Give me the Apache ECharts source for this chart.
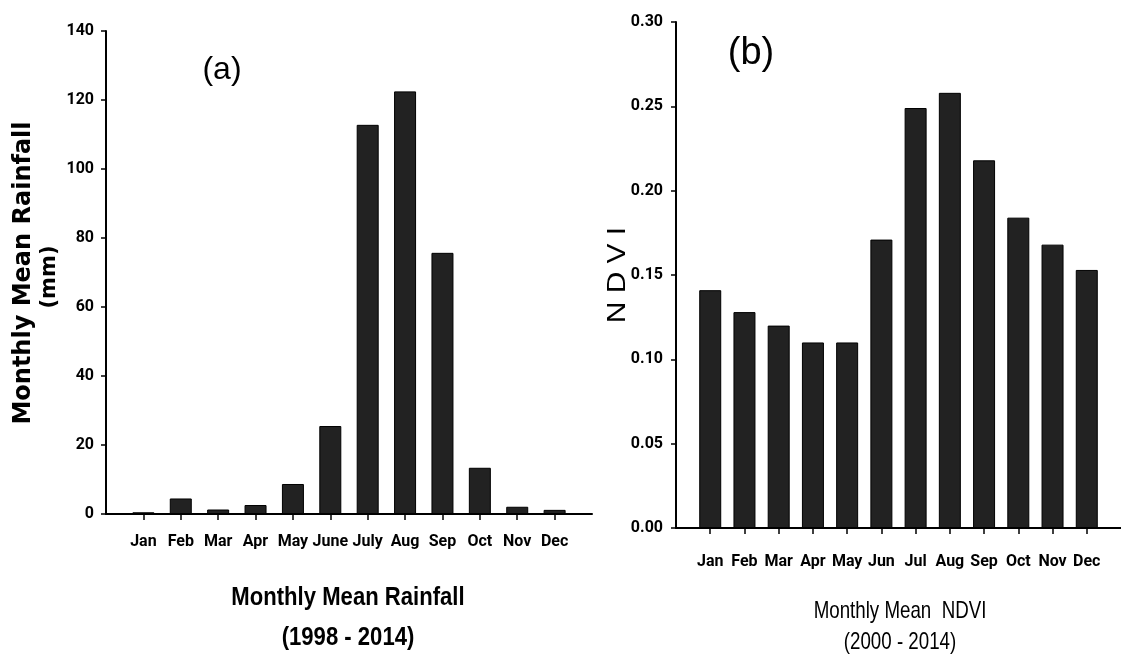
<!DOCTYPE html>
<html>
<head>
<meta charset="utf-8">
<script src="https://cdn.jsdelivr.net/npm/echarts@6/dist/echarts.min.js"></script>
<style>
html,body{margin:0;padding:0;background:#fff;}
#main{width:1121px;height:658px;}
</style>
</head>
<body>
<div id="main"></div>
<script>
// ---- data ----
const rainfallMonths = ['Jan','Feb','Mar','Apr','May','June','July','Aug','Sep','Oct','Nov','Dec'];
const rainfall = [0.5, 4.5, 1.3, 2.6, 8.7, 25.5, 112.8, 122.5, 75.7, 13.4, 2.1, 1.2];
const rainfallTicks = [0, 20, 40, 60, 80, 100, 120, 140];

const ndviMonths = ['Jan','Feb','Mar','Apr','May','Jun','Jul','Aug','Sep','Oct','Nov','Dec'];
const ndvi = [0.141, 0.128, 0.120, 0.110, 0.110, 0.171, 0.249, 0.258, 0.218, 0.184, 0.168, 0.153];
const ndviTicks = [0, 0.05, 0.10, 0.15, 0.20, 0.25, 0.30];

const positions = rainfallMonths.map((m, i) => i + 1);

const tickFont = "Roboto, 'Liberation Sans', sans-serif";

function xAxisCfg(gridIndex, labels, margin) {
  return {
    type: 'value', gridIndex: gridIndex, min: 0, max: labels.length + 1,
    splitLine: {show: false},
    axisLine: {show: true, onZero: false, lineStyle: {color: '#000', width: 2}},
    axisTick: {show: true, customValues: positions, length: 6, lineStyle: {color: '#000', width: 1.5}},
    axisLabel: {
      customValues: positions, margin: margin,
      formatter: v => labels[Math.round(v) - 1] || '',
      color: '#000', fontFamily: tickFont, fontWeight: 'bold', fontSize: 16
    }
  };
}
function yAxisCfg(gridIndex, ticks, decimals, margin) {
  return {
    type: 'value', gridIndex: gridIndex, min: ticks[0], max: ticks[ticks.length - 1],
    splitLine: {show: false},
    axisLine: {show: true, lineStyle: {color: '#000', width: 2}},
    axisTick: {show: true, customValues: ticks, length: 5, lineStyle: {color: '#000', width: 1.5}},
    axisLabel: {
      customValues: ticks, margin: margin,
      formatter: v => decimals ? v.toFixed(decimals) : String(v),
      color: '#000', fontFamily: tickFont, fontWeight: 'bold', fontSize: 16
    }
  };
}

const chart = echarts.init(document.getElementById('main'), null, {renderer: 'canvas'});
chart.setOption({
  backgroundColor: '#fff',
  animation: false,
  grid: [
    {left: 106, top: 31, width: 486, height: 483},
    {left: 676, top: 22, width: 446, height: 506}
  ],
  xAxis: [
    xAxisCfg(0, rainfallMonths, 20),
    xAxisCfg(1, ndviMonths, 26)
  ],
  yAxis: [
    yAxisCfg(0, rainfallTicks, 0, 12),
    yAxisCfg(1, ndviTicks, 2, 13)
  ],
  series: [
    {
      type: 'bar', xAxisIndex: 0, yAxisIndex: 0, barWidth: 22,
      data: rainfall.map((v, i) => [positions[i], v]),
      itemStyle: {color: '#222222', borderColor: '#000', borderWidth: 1}
    },
    {
      type: 'bar', xAxisIndex: 1, yAxisIndex: 1, barWidth: 22,
      data: ndvi.map((v, i) => [positions[i], v]),
      itemStyle: {color: '#222222', borderColor: '#000', borderWidth: 1}
    }
  ],
  graphic: [
    {type: 'text', x: 222, y: 70, style: {text: '(a)', fontFamily: "'Liberation Sans',sans-serif", fontSize: 32, fill: '#000', align: 'center', verticalAlign: 'middle'}},
    {type: 'text', x: 751, y: 54, style: {text: '(b)', fontFamily: "'Liberation Sans',sans-serif", fontSize: 38, fill: '#000', align: 'center', verticalAlign: 'middle'}},
    {type: 'text', x: 24, y: 273, rotation: Math.PI / 2, style: {text: 'Monthly Mean Rainfall', fontFamily: "'DejaVu Sans',sans-serif", fontWeight: 'bold', fontSize: 24, fill: '#000', align: 'center', verticalAlign: 'middle'}},
    {type: 'text', x: 50, y: 277, rotation: Math.PI / 2, style: {text: '(mm)', fontFamily: "'DejaVu Sans',sans-serif", fontWeight: 'bold', fontSize: 21, fill: '#000', align: 'center', verticalAlign: 'middle'}},
    {type: 'text', x: 618, y: 275, rotation: Math.PI / 2, scaleX: 1.15, style: {text: 'N D V I', fontFamily: "'Liberation Sans',sans-serif", fontSize: 26, fill: '#000', align: 'center', verticalAlign: 'middle'}},
    {type: 'text', x: 348, y: 598, scaleX: 0.85, style: {text: 'Monthly Mean Rainfall', fontFamily: "'Liberation Sans',sans-serif", fontWeight: 'bold', fontSize: 26, fill: '#000', align: 'center', verticalAlign: 'middle'}},
    {type: 'text', x: 348, y: 638, scaleX: 0.85, style: {text: '(1998 - 2014)', fontFamily: "'Liberation Sans',sans-serif", fontWeight: 'bold', fontSize: 26, fill: '#000', align: 'center', verticalAlign: 'middle'}},
    {type: 'text', x: 900, y: 611, scaleX: 0.78, style: {text: 'Monthly Mean  NDVI', fontFamily: "'Liberation Sans',sans-serif", fontSize: 24, fill: '#000', align: 'center', verticalAlign: 'middle'}},
    {type: 'text', x: 900, y: 642, scaleX: 0.78, style: {text: '(2000 - 2014)', fontFamily: "'Liberation Sans',sans-serif", fontSize: 24, fill: '#000', align: 'center', verticalAlign: 'middle'}}
  ]
});
</script>
</body>
</html>
